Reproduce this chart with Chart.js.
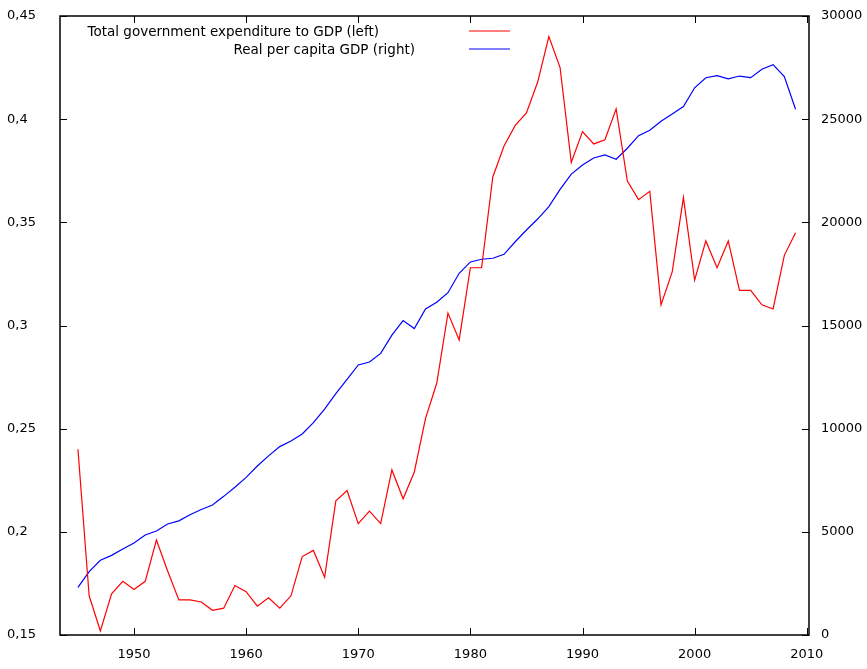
<!DOCTYPE html>
<html lang="en">
<head>
    <meta charset="UTF-8">
    <title>Government expenditure and GDP</title>
    <script src="https://cdn.jsdelivr.net/npm/chart.js"></script>
    <style>
        body, html {
            margin: 0;
            background: #ffffff;
        }
        .chart-box {
            width: 867px;
            height: 669px;
        }
    </style>
</head>
<body>
    <div class="chart-box">
        <canvas id="mainChart"></canvas>
    </div>

    <script>
        // years 1945..2009
        const years = [];
        for (let y = 1945; y <= 2009; y++) years.push(y);

        // total government expenditure / GDP (left axis)
        const expenditure = [
            0.240, 0.169, 0.152, 0.170, 0.176, 0.172, 0.176, 0.196, 0.181, 0.167,
            0.167, 0.166, 0.162, 0.163, 0.174, 0.171, 0.164, 0.168, 0.163, 0.169,
            0.188, 0.191, 0.178, 0.215, 0.220, 0.204, 0.210, 0.204, 0.230, 0.216,
            0.229, 0.255, 0.272, 0.306, 0.293, 0.328, 0.328, 0.372, 0.387, 0.397,
            0.403, 0.418, 0.440, 0.425, 0.379, 0.394, 0.388, 0.390, 0.405, 0.370,
            0.361, 0.365, 0.310, 0.326, 0.362, 0.322, 0.341, 0.328, 0.341, 0.317,
            0.317, 0.310, 0.308, 0.334, 0.345
        ];

        // real per capita GDP (right axis)
        const gdpPerCapita = [
            2310, 3070, 3620, 3860, 4170, 4460, 4850, 5040, 5380, 5530,
            5830, 6080, 6300, 6720, 7160, 7640, 8190, 8680, 9130, 9400,
            9740, 10290, 10950, 11700, 12390, 13090, 13230, 13650, 14530, 15240,
            14850, 15800, 16130, 16590, 17530, 18080, 18210, 18260, 18450, 19060,
            19630, 20160, 20760, 21600, 22340, 22780, 23120, 23270, 23060, 23590,
            24200, 24460, 24900, 25250, 25610, 26520, 27010, 27110, 26950, 27090,
            27010, 27420, 27640, 27060, 25480
        ];

        const xTicks = [1950, 1960, 1970, 1980, 1990, 2000, 2010];
        const leftTicks = [0.15, 0.2, 0.25, 0.3, 0.35, 0.4, 0.45];
        const rightTicks = [0, 5000, 10000, 15000, 20000, 25000, 30000];

        const seriesNames = ['Total government expenditure to GDP (left)', 'Real per capita GDP (right)'];

        const fontSpec = { family: 'DejaVu Sans', size: 13 };

        // gnuplot-like frame, inward ticks and key
        const framePlugin = {
            id: 'frame',
            afterDatasetsDraw(chart) {
                const ctx = chart.ctx;
                const { left, right, top, bottom } = chart.chartArea;
                const sx = chart.scales.x, sy = chart.scales.y, sy1 = chart.scales.y1;
                const tl = 7;
                ctx.save();
                ctx.strokeStyle = '#000';
                ctx.lineWidth = 1;
                ctx.beginPath();
                sx.ticks.forEach(t => {
                    const px = Math.round(sx.getPixelForValue(t.value)) + 0.5;
                    ctx.moveTo(px, bottom); ctx.lineTo(px, bottom - tl);
                    ctx.moveTo(px, top); ctx.lineTo(px, top + tl);
                });
                sy.ticks.forEach(t => {
                    const py = Math.round(sy.getPixelForValue(t.value)) + 0.5;
                    ctx.moveTo(left, py); ctx.lineTo(left + tl, py);
                });
                sy1.ticks.forEach(t => {
                    const py = Math.round(sy1.getPixelForValue(t.value)) + 0.5;
                    ctx.moveTo(right, py); ctx.lineTo(right - tl, py);
                });
                ctx.stroke();
                ctx.lineWidth = 1.5;
                ctx.strokeRect(left, top, right - left, bottom - top);

                // key
                ctx.font = '13.5px "DejaVu Sans"';
                ctx.fillStyle = '#000';
                ctx.textBaseline = 'middle';
                ctx.textAlign = 'right';
                const keyRows = [{ y: top + 15, textRight: 379 }, { y: top + 33, textRight: 415 }];
                chart.data.datasets.forEach((ds, i) => {
                    const row = keyRows[i];
                    ctx.fillText(ds.label, row.textRight, row.y + 1);
                    ctx.strokeStyle = ds.borderColor;
                    ctx.lineWidth = 1.2;
                    ctx.beginPath();
                    ctx.moveTo(469, row.y);
                    ctx.lineTo(510, row.y);
                    ctx.stroke();
                });
                ctx.restore();
            }
        };

        const noPad = s => { s.paddingTop = 0; s.paddingBottom = 0; };

        const ctx = document.getElementById('mainChart').getContext('2d');
        new Chart(ctx, {
            type: 'line',
            data: {
                labels: years,
                datasets: [{
                    label: seriesNames[0],
                    data: expenditure,
                    borderColor: '#ff0000',
                    borderWidth: 1.2,
                    pointRadius: 0,
                    tension: 0,
                    yAxisID: 'y'
                }, {
                    label: seriesNames[1],
                    data: gdpPerCapita,
                    borderColor: '#0000ff',
                    borderWidth: 1.2,
                    pointRadius: 0,
                    tension: 0,
                    yAxisID: 'y1'
                }]
            },
            options: {
                responsive: true,
                maintainAspectRatio: false,
                animation: false,
                layout: { padding: { left: 7, top: 16, right: 0, bottom: 0 } },
                plugins: {
                    legend: { display: false },
                    tooltip: { enabled: false }
                },
                scales: {
                    x: {
                        type: 'linear',
                        min: 1943.4,
                        max: 2010.2,
                        grid: { display: false, drawTicks: false },
                        border: { display: false },
                        afterBuildTicks: s => { s.ticks = xTicks.map(v => ({ value: v })); },
                        afterFit: s => { s.height = 34; },
                        ticks: {
                            color: '#000',
                            font: fontSpec,
                            padding: 12,
                            maxRotation: 0,
                            callback: v => String(v)
                        }
                    },
                    y: {
                        position: 'left',
                        min: 0.15,
                        max: 0.45,
                        grid: { display: false, drawTicks: false },
                        border: { display: false },
                        afterBuildTicks: s => { s.ticks = leftTicks.map(v => ({ value: v })); },
                        afterFit: s => { s.width = 53; noPad(s); },
                        ticks: {
                            color: '#000',
                            font: fontSpec,
                            crossAlign: 'far',
                            callback: v => String(Math.round(v * 100) / 100).replace('.', ',')
                        }
                    },
                    y1: {
                        position: 'right',
                        min: 0,
                        max: 30000,
                        grid: { display: false, drawTicks: false },
                        border: { display: false },
                        afterBuildTicks: s => { s.ticks = rightTicks.map(v => ({ value: v })); },
                        afterFit: s => { s.width = 58; noPad(s); },
                        ticks: {
                            color: '#000',
                            font: fontSpec,
                            padding: 12,
                            callback: v => String(v)
                        }
                    }
                }
            },
            plugins: [framePlugin]
        });
    </script>
</body>
</html>
